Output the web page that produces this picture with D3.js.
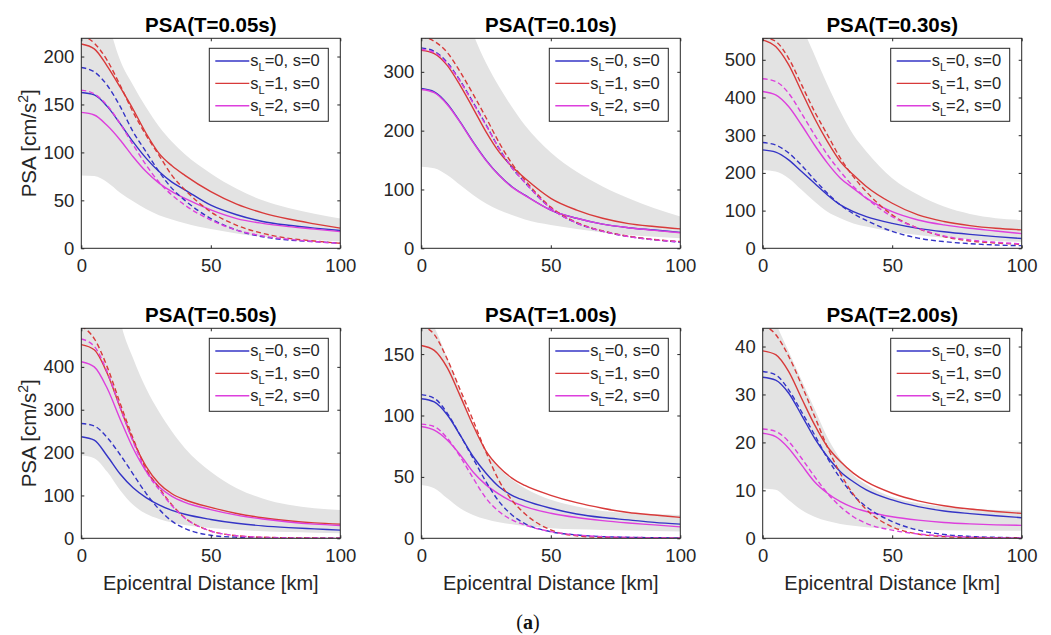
<title>PSA vs Epicentral Distance</title>

<script src="https://d3js.org/d3.v7.min.js"></script>
<style>
    body {
      margin: 0;
      background: #fff;
    }
    svg {
      font-family: "Liberation Sans", Arial, sans-serif;
    }
</style>

<body>
    <div id="plot"></div>
</body>

<script>
    var distance = [0, 5, 10, 15, 20, 25, 30, 35, 40, 50, 60, 70, 80, 90, 100];
    var periods = ["0.05", "0.10", "0.30", "0.50", "1.00", "2.00"];
    var yMax = [219, 357, 557, 490, 171, 43.8];
    var yTicks = [
        [0, 50, 100, 150, 200],
        [0, 100, 200, 300],
        [0, 100, 200, 300, 400, 500],
        [0, 100, 200, 300, 400],
        [0, 50, 100, 150],
        [0, 10, 20, 30, 40]
    ];
    var xTicks = [0, 50, 100];
    var legendLevels = ["0", "1", "2"];

    // grey band (lower / upper edge)
    var bandLow = [
        [76, 75.5, 69, 58, 49, 41, 34.5, 30, 26, 20, 15.5, 12, 10, 8.6, 7],
        [138.6, 136, 124.5, 107.5, 90.5, 76, 65, 56.6, 49, 39.6, 33, 27, 22.6, 19.8, 17],
        [208, 203.5, 186, 155, 124, 97, 80, 66, 57.5, 44, 35, 28, 24, 19.5, 17],
        [194, 187, 155, 112, 78, 57, 45, 37, 31, 24, 19.5, 16.5, 14.5, 13, 12],
        [43.5, 40.8, 32.6, 24.5, 19, 15.5, 13, 11.4, 10, 8.2, 7.3, 6.8, 6.3, 6, 5.5],
        [10.4, 10.1, 8, 5.9, 4.5, 3.6, 3, 2.6, 2.3, 1.95, 1.8, 1.7, 1.65, 1.6, 1.6]
    ];
    var bandHigh = [
        [310, 295, 240, 196, 170, 147, 127, 111, 98, 78, 62, 50, 42, 36, 31],
        [555, 545, 500, 430, 365, 315, 275, 240, 209, 163, 130, 105, 85, 68, 54],
        [870, 850, 760, 600, 513, 434, 363, 301, 257, 186, 142, 110.6, 91, 80, 75],
        [900, 850, 700, 510, 420, 350, 295, 249, 210, 155, 116.5, 93, 78, 70, 66],
        [190, 172, 147, 120, 92, 70.7, 57, 47.6, 40.8, 31.3, 25.8, 22.3, 20.4, 19.5, 19],
        [52, 45, 39, 33, 27, 21, 16.5, 13.2, 11.2, 8.6, 7.3, 6.6, 6.1, 5.9, 5.8]
    ];

    // solid curves
    var solidSL0 = [
        [162.5, 160, 148, 130, 111, 94, 80, 69, 61, 45, 35, 28, 24, 21, 18.5],
        [271.6, 266, 246, 215, 181, 150, 124.5, 104.7, 90.5, 65, 51, 41, 35, 31, 27],
        [261, 255, 234.5, 203.5, 172.6, 141.6, 115, 97, 84, 66, 53, 44, 37, 31, 26],
        [237, 229, 192, 150, 118, 95, 78, 65, 56, 44, 35, 29, 25, 22, 19],
        [113.6, 111, 100.6, 84, 66.6, 53, 42, 35, 30.7, 24.5, 19.8, 16.9, 15, 13, 11.5],
        [33.6, 33, 30.3, 25.7, 20.9, 17, 13.9, 11.8, 10.1, 8, 6.6, 5.7, 5.15, 4.7, 4.3]
    ];
    var solidSL1 = [
        [213, 208, 190, 168, 145, 120, 99, 86, 76, 59, 46, 37, 30.5, 25.5, 21],
        [336.7, 331, 311, 277, 238, 198, 164, 139, 119, 85, 65, 51, 42, 37, 33],
        [553, 535, 487, 416, 345, 283, 230, 195, 164, 119.5, 88.5, 71, 60, 53, 49],
        [452, 440, 385, 305, 228, 168, 128, 104, 90, 72, 58, 48, 41, 36, 33],
        [157, 153, 139, 116, 92, 71, 58, 49, 43, 35, 29, 24.5, 21, 19, 17],
        [39.1, 38.3, 34.8, 29.2, 23.7, 19.1, 16, 13.6, 11.8, 9.4, 7.8, 6.8, 6.1, 5.6, 5.2]
    ];
    var solidSL2 = [
        [141.7, 139, 128, 113, 95.5, 80, 68, 59, 52, 40, 31, 26, 22.6, 20, 17.4],
        [270, 264.5, 244.5, 214, 180, 149, 124, 104, 90, 65, 51, 41, 35, 30.5, 26.5],
        [416, 407, 376, 327, 274, 226, 186, 159, 133, 97, 75, 62, 53, 46, 39],
        [412, 400, 350, 278, 210, 157, 120, 98, 84, 67, 54, 45, 38, 33, 30],
        [91, 88, 80, 68, 54, 43.5, 36, 30, 25.8, 20.4, 16.9, 14.4, 12.5, 10.9, 9.3],
        [21.9, 21.2, 18.8, 15.3, 11.8, 9.4, 7.65, 6.4, 5.6, 4.5, 3.8, 3.3, 3, 2.8, 2.7]
    ];

    // dashed curves
    var dashSL0 = [
        [188.5, 184, 170, 148, 121.5, 100.7, 80, 62.5, 50, 31, 19, 12, 8.7, 7, 5.2],
        [340.7, 335, 316, 285, 248, 210, 170, 137, 112, 68, 43, 29, 20, 14.5, 10.5],
        [280.5, 274, 253, 220, 182, 146, 115, 92, 74, 45, 27, 17.7, 12.4, 8.8, 7],
        [268, 262, 235, 195, 150, 105, 68, 40, 23, 7, 2.5, 1.2, 0.6, 0.3, 0.2],
        [117, 114, 102, 84, 65, 46, 30, 19, 12, 5.4, 2.7, 1.4, 0.8, 0.5, 0.3],
        [34.8, 34.1, 31, 26.4, 21.6, 16.7, 12.5, 9, 6.6, 3.5, 1.7, 0.8, 0.4, 0.2, 0.1]
    ];
    var dashSL1 = [
        [222, 214, 196, 170, 142, 118, 97, 76, 61, 38, 24, 15.6, 10.4, 7.6, 5.2],
        [360, 352, 333, 300, 262, 222, 180, 144, 116, 70, 44, 29.5, 20.5, 15, 11.5],
        [560, 549, 504, 434, 363, 301, 239, 190, 150, 88.5, 53, 31, 19.5, 14, 10.6],
        [495, 466, 400, 315, 233, 162, 118, 78, 48, 17, 6, 2.5, 1.2, 0.6, 0.3],
        [173, 166, 146, 121, 96, 70, 47, 31, 20, 6.8, 2, 0.7, 0.3, 0.15, 0.1],
        [44.5, 42.5, 38, 32, 25.5, 19, 13.5, 9.2, 6, 2.4, 0.9, 0.35, 0.15, 0.08, 0.05]
    ];
    var dashSL2 = [
        [165, 161, 149, 130, 108, 87, 69, 55.5, 45, 29.5, 19, 12.8, 9.4, 7, 5.2],
        [338, 333, 314, 284, 247, 209, 170, 137, 112, 68, 43, 29, 20, 14.5, 11],
        [449.6, 442.5, 411.5, 358, 301, 248, 203.5, 164, 133, 84, 53, 32.7, 22, 16, 11.5],
        [465, 448, 388, 305, 226, 157, 114, 76, 47, 17, 6, 2.5, 1.2, 0.6, 0.3],
        [93, 91, 81.6, 66.6, 49, 32.6, 21.8, 15, 10.9, 5.4, 2.7, 1.4, 0.8, 0.5, 0.3],
        [22.8, 22.3, 20.2, 16.7, 12.9, 9.4, 6.6, 4.5, 3.1, 1.7, 0.9, 0.5, 0.25, 0.12, 0.06]
    ];

    var colors = ["#3434c6", "#d83a3a", "#dd3fdd"];
    var axisColor = "#262626";

    var W = 1051, H = 635;
    var colX = [81.3, 421.3, 762.7],
        rowY = [38.3, 328.3],
        pw = 259,
        ph = 210;

    var svg = d3.select("#plot")
        .append("svg")
            .attr("width", W)
            .attr("height", H);

    svg.append("rect")
        .attr("width", W)
        .attr("height", H)
        .attr("fill", "#fff");

    periods.forEach(function(T, i) {
        var col = i % 3, row = Math.floor(i / 3);
        var g = svg.append("g")
            .attr("transform", "translate(" + colX[col] + "," + rowY[row] + ")");

        var x = d3.scaleLinear().domain([0, 100]).range([0, pw]);
        var y = d3.scaleLinear().domain([0, yMax[i]]).range([ph, 0]);

        g.append("clipPath")
            .attr("id", "clip" + i)
            .append("rect")
                .attr("width", pw)
                .attr("height", ph);

        var plot = g.append("g").attr("clip-path", "url(#clip" + i + ")");

        // band
        var area = d3.area()
            .x(function(d, j) { return x(distance[j]); })
            .y0(function(d, j) { return y(bandLow[i][j]); })
            .y1(function(d, j) { return y(bandHigh[i][j]); })
            .curve(d3.curveMonotoneX);
        plot.append("path")
            .datum(distance)
            .attr("d", area)
            .attr("fill", "#e3e3e3");

        var line = d3.line()
            .x(function(d, j) { return x(distance[j]); })
            .y(function(d) { return y(d); })
            .curve(d3.curveMonotoneX);

        var solids = [solidSL0[i], solidSL1[i], solidSL2[i]];
        var dashes = [dashSL0[i], dashSL1[i], dashSL2[i]];

        solids.forEach(function(s, k) {
            plot.append("path")
                .datum(s)
                .attr("d", line)
                .attr("fill", "none")
                .attr("stroke", colors[k])
                .attr("stroke-width", 1.4);
        });
        dashes.forEach(function(s, k) {
            plot.append("path")
                .datum(s)
                .attr("d", line)
                .attr("fill", "none")
                .attr("stroke", colors[k])
                .attr("stroke-width", 1.4)
                .attr("stroke-dasharray", "5,3");
        });

        // axes (ticks inside, matlab style)
        g.append("g")
            .attr("transform", "translate(0," + ph + ")")
            .call(d3.axisBottom(x).tickValues(xTicks).tickSizeInner(-3).tickSizeOuter(0).tickPadding(10.4));
        g.append("g")
            .call(d3.axisLeft(y).tickValues(yTicks[i]).tickSizeInner(-3).tickSizeOuter(0).tickPadding(7));
        g.append("g")
            .call(d3.axisTop(x).tickValues(xTicks).tickSizeInner(-3).tickSizeOuter(0).tickFormat(""));
        g.append("g")
            .attr("transform", "translate(" + pw + ",0)")
            .call(d3.axisRight(y).tickValues(yTicks[i]).tickSizeInner(-3).tickSizeOuter(0).tickFormat(""));

        g.selectAll(".domain").remove();
        g.selectAll(".tick line").attr("stroke", axisColor);
        g.selectAll(".tick text")
            .attr("fill", axisColor)
            .style("font-size", "18.5px")
            .style("font-family", "'Liberation Sans', Arial, sans-serif");

        g.append("rect")
            .attr("width", pw)
            .attr("height", ph)
            .attr("fill", "none")
            .attr("stroke", axisColor)
            .attr("stroke-width", 1);

        // title
        g.append("text")
            .attr("x", pw / 2)
            .attr("y", -6)
            .attr("text-anchor", "middle")
            .style("font-size", "20.5px")
            .style("font-weight", "bold")
            .attr("fill", "#000")
            .text("PSA(T=" + T + "s)");

        // legend
        var lx = pw - 131, ly = 10;
        var lg = g.append("g").attr("transform", "translate(" + lx + "," + ly + ")");
        lg.append("rect")
            .attr("width", 119)
            .attr("height", 73)
            .attr("fill", "#fff")
            .attr("stroke", axisColor)
            .attr("stroke-width", 1);
        legendLevels.forEach(function(lv, k) {
            var cy = 12.7 + k * 22.4;
            lg.append("line")
                .attr("x1", 6).attr("x2", 40)
                .attr("y1", cy).attr("y2", cy)
                .attr("stroke", colors[k])
                .attr("stroke-width", 1.4);
            var t = lg.append("text")
                .attr("x", 41)
                .attr("y", cy + 5.5)
                .attr("fill", axisColor)
                .style("font-size", "16.5px");
            t.append("tspan").text("s");
            t.append("tspan").attr("dy", 5).style("font-size", "11px").text("L");
            t.append("tspan").attr("dy", -5).text("=" + lv + ", s=0");
        });

        // axis labels
        if (col === 0) {
            var yt = g.append("text")
                .attr("transform", "translate(-45.6," + ph / 2 + ") rotate(-90)")
                .attr("text-anchor", "middle")
                .attr("fill", axisColor)
                .style("font-size", "20.5px");
            yt.append("tspan").text("PSA [cm/s");
            yt.append("tspan").attr("dy", -8).style("font-size", "14px").text("2");
            yt.append("tspan").attr("dy", 8).text("]");
        }
        if (row === 1) {
            g.append("text")
                .attr("x", pw / 2)
                .attr("y", ph + 51.5)
                .attr("text-anchor", "middle")
                .attr("fill", axisColor)
                .style("font-size", "20px")
                .text("Epicentral Distance [km]");
        }
    });

    // panel tag
    var tag = svg.append("text")
        .attr("x", 528)
        .attr("y", 629)
        .attr("text-anchor", "middle")
        .attr("fill", "#111")
        .style("font-family", "'Liberation Serif', 'DejaVu Serif', serif")
        .style("font-size", "20px");
    tag.append("tspan").text("(");
    tag.append("tspan").style("font-weight", "bold").text("a");
    tag.append("tspan").text(")");
</script>
